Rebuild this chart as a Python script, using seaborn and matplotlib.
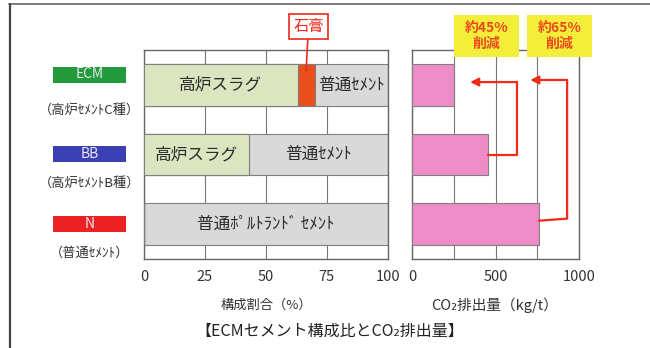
import matplotlib
matplotlib.use("Agg")
import matplotlib.pyplot as plt
import seaborn as sns
import pandas as pd
from matplotlib.patches import Rectangle

# ── Data ──────────────────────────────────────────────────────────────────────

cements  = ["ECM", "BB", "N"]
subnames = ["（高炉ｾﾒﾝﾄC種）", "（高炉ｾﾒﾝﾄB種）", "（普通ｾﾒﾝﾄ）"]
slag     = [63, 43, 0]
gypsum   = [7, 0, 0]
opc      = [30, 57, 100]
co2      = [250, 455, 760]
cuts     = ["約45%\n削減", "約65%\n削減"]

df = pd.DataFrame({"cement": cements, "slag": slag, "gypsum": gypsum,
                   "opc": opc, "co2": co2})
df["sg"] = df["slag"] + df["gypsum"]
df["total"] = df["sg"] + df["opc"]

# ── Style ─────────────────────────────────────────────────────────────────────

sns.set_theme(style="white")
plt.rcParams["font.family"] = ["Noto Sans CJK JP", "DejaVu Sans"]

GREEN = "#dbe6c0"
GRAY = "#d9d9d9"
ORANGE = "#ea4e1b"
PINK = "#ee8cc8"
EDGE = "#7f7f7f"
RED = "#ee2a1c"

fig = plt.figure(figsize=(6.5, 3.48), dpi=100)
ax1 = fig.add_axes([0.2215, 0.2557, 0.375, 0.6006])
ax2 = fig.add_axes([0.634, 0.2557, 0.257, 0.6006])

bar_kw = dict(width=0.6, saturation=1, edgecolor=EDGE, linewidth=0.8)

# ── Left: composition (stacked by overlapping) ───────────────────────────────

sns.barplot(data=df, x="total", y="cement", color=GRAY, ax=ax1, zorder=2, **bar_kw)
sns.barplot(data=df, x="sg", y="cement", color=ORANGE, ax=ax1, zorder=3, **bar_kw)
sns.barplot(data=df, x="slag", y="cement", color=GREEN, ax=ax1, zorder=4, **bar_kw)

ax1.set_xlim(0, 100)
ax1.set_ylim(2.5, -0.5)
ax1.set_xticks([0, 25, 50, 75, 100])
ax1.xaxis.grid(True, color="#777777", linewidth=0.8)
ax1.set_axisbelow(True)

txt = dict(ha="center", va="center", fontsize=12, color="#2a2a2a", zorder=6)
ax1.text(slag[0] / 2, 0, "高炉スラグ", **txt)
ax1.text(df["sg"][0] + opc[0] / 2, 0, "普通ｾﾒﾝﾄ", **txt)
ax1.text(slag[1] / 2, 1, "高炉スラグ", **txt)
ax1.text(slag[1] + opc[1] / 2, 1, "普通ｾﾒﾝﾄ", **txt)
ax1.text(opc[2] / 2, 2, "普通ﾎﾟﾙﾄﾗﾝﾄﾞ ｾﾒﾝﾄ", **txt)

# gypsum callout
gx = slag[0] + gypsum[0] / 2
ax1.annotate("石膏", xy=(gx, -0.2), xytext=(gx + 1, -0.84),
             textcoords="data", ha="center", va="center", fontsize=11,
             color=RED, annotation_clip=False,
             bbox=dict(boxstyle="square,pad=0.25", fc="white", ec=RED, lw=1.2),
             arrowprops=dict(arrowstyle="-", color=RED, lw=1.2,
                             shrinkA=0, shrinkB=0))

# ── Right: CO2 emissions ─────────────────────────────────────────────────────

sns.barplot(data=df, x="co2", y="cement", color=PINK, ax=ax2, zorder=3, **bar_kw)
ax2.set_xlim(0, 1000)
ax2.set_ylim(2.5, -0.5)
ax2.set_xticks([0, 250, 500, 750, 1000])
ax2.set_xticklabels(["0", "", "500", "", "1000"])
ax2.xaxis.grid(True, color="#777777", linewidth=0.8)
ax2.set_axisbelow(True)

# reduction arrows
ax2.plot([co2[1], 629, 629], [1, 1, -0.04], color=RED, lw=1.6, zorder=5,
         clip_on=False)
ax2.annotate("", xy=(347, -0.04), xytext=(629, -0.04),
             arrowprops=dict(arrowstyle="-|>", color=RED, lw=1.6,
                             mutation_scale=12, shrinkA=0, shrinkB=0))
ax2.plot([co2[2], 928, 928], [1.95, 1.92, -0.07], color=RED, lw=1.6,
         zorder=5, clip_on=False)
ax2.annotate("", xy=(707, -0.07), xytext=(928, -0.07),
             arrowprops=dict(arrowstyle="-|>", color=RED, lw=1.6,
                             mutation_scale=12, shrinkA=0, shrinkB=0))

for ax in (ax1, ax2):
    ax.set_ylabel("")
    ax.set_xlabel("")
    ax.set_yticks([])
    ax.tick_params(axis="x", length=0, pad=8, labelsize=10.5,
                   labelcolor="#333333")
    for s in ax.spines.values():
        s.set_color("#666666")
        s.set_linewidth(1.0)

# ── Figure decorations ───────────────────────────────────────────────────────

W, H = 650, 348

def fx(px):
    return px / W

def fy(py):
    return 1 - py / H

# frame lines
fig.add_artist(plt.Line2D([fx(9), fx(650)], [fy(4), fy(4)], color="#666666", lw=1.2))
fig.add_artist(plt.Line2D([fx(10), fx(10)], [fy(4), fy(348)], color="#444444", lw=1.6))

# category tags on the left
tag_colors = ["#239a3c", "#3a3fb4", "#ec2222"]
tag_y = [74.5, 153.5, 223.5]
sub_y = [110, 183, 253]
for name, sub, c, ty, sy in zip(cements, subnames, tag_colors, tag_y, sub_y):
    fig.add_artist(Rectangle((fx(53), fy(ty + 8)), fx(73), 16 / H,
                             facecolor=c, edgecolor="none"))
    fig.text(fx(89.5), fy(ty), name, ha="center", va="center",
             fontsize=10, color="#e6e6f0")
    fig.text(fx(89.5), fy(sy), sub, ha="center", va="center",
             fontsize=9.5, color="#333333")

# reduction labels
for label, x0 in zip(cuts, [454, 527]):
    fig.add_artist(Rectangle((fx(x0), fy(57)), fx(65), 42 / H,
                             facecolor="#f3ee3a", edgecolor="none", zorder=10))
    fig.text(fx(x0 + 32.5), fy(36), label, ha="center", va="center",
             fontsize=10, color="#ec4a1e", fontweight="bold",
             linespacing=1.1, zorder=11)

fig.text(fx(266), fy(305), "構成割合（%）", ha="center", va="center",
         fontsize=9.5, color="#333333")
fig.text(fx(495), fy(305), "CO₂排出量（kg/t）", ha="center", va="center",
         fontsize=10.5, color="#333333")
fig.text(fx(330), fy(331), "【ECMセメント構成比とCO₂排出量】", ha="center",
         va="center", fontsize=11.5, color="#222222")

fig.savefig("out.png", dpi=100)
